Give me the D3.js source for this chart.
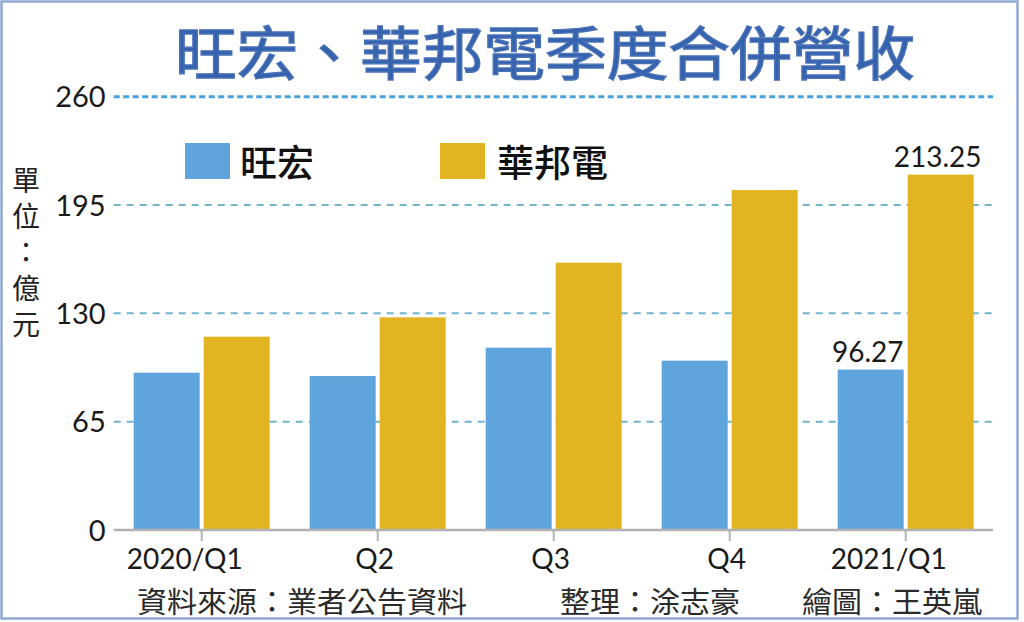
<!DOCTYPE html>
<html>
<head>
<meta charset="utf-8">
<script src="https://cdn.jsdelivr.net/npm/d3@7"></script>
<style>
  html, body { margin: 0; padding: 0; background: #fff; }
  svg { display: block; }
</style>
</head>
<body>
<svg id="chart" width="1024" height="622"></svg>
<script>
// ---- data ----
const categories = ["2020/Q1", "Q2", "Q3", "Q4", "2021/Q1"];
const seriesNames = ["旺宏", "華邦電"];
const macronix = [94.4, 92.4, 109.4, 101.6, 96.27];
const winbond = [116.0, 127.6, 160.4, 204.0, 213.25];
const yTicks = [0, 65, 130, 195, 260];
const valueLabels = [
  { cat: "2021/Q1", series: "旺宏", text: "96.27", value: 96.27 },
  { cat: "2021/Q1", series: "華邦電", text: "213.25", value: 213.25 }
];
const titleText = "旺宏、華邦電季度合併營收";
const unitText = "單位：億元";
const footerLeft = "資料來源：業者公告資料";
const footerMid = "整理：涂志豪";
const footerRight = "繪圖：王英嵐";

(function () {
// ---- setup ----
const svg = d3.select("#chart");
const colors = d3.scaleOrdinal().domain(seriesNames).range(["#5fa4dc", "#e2b422"]);
const cjk = "'Noto Sans CJK TC', 'Noto Sans CJK SC', sans-serif";
const num = "Lato, 'Open Sans', sans-serif";

const plotLeft = 113.7, plotRight = 993.7, baseline = 530, plotTop = 96.7;

const x0 = d3.scaleBand().domain(categories).range([plotLeft, plotRight])
  .paddingInner(40 / 176).paddingOuter(20 / 176);
const x1 = d3.scaleBand().domain(seriesNames).range([0, x0.bandwidth()])
  .paddingInner(4 / 70).paddingOuter(0);
const y = d3.scaleLinear().domain([0, 260]).range([baseline, plotTop]);

// frame border
svg.append("rect").attr("x", 1.5).attr("y", 1.5).attr("width", 1016).attr("height", 617)
  .attr("fill", "none").attr("stroke", "#8fa8d2").attr("stroke-width", 2.5);

// title
svg.append("text").attr("x", 175).attr("y", 50)
  .attr("dominant-baseline", "central")
  .attr("textLength", 740).attr("lengthAdjust", "spacingAndGlyphs")
  .attr("font-family", cjk).attr("font-weight", 400).attr("font-size", 58)
  .attr("fill", "#3562ad").attr("stroke", "#4a72b8").attr("stroke-width", 1.4)
  .text(titleText);

// gridlines
const grid = svg.append("g");
yTicks.filter(d => d > 0).forEach(t => {
  const isTop = t === 260;
  grid.append("line")
    .attr("x1", plotLeft).attr("x2", plotRight - 0.7)
    .attr("y1", y(t)).attr("y2", y(t))
    .attr("stroke", isTop ? "#4aa2db" : "#72b4cf")
    .attr("stroke-width", isTop ? 3 : 2)
    .attr("stroke-dasharray", isTop ? "6,3.5" : "7,6");
});

// y tick labels
const yAxis = d3.axisLeft(y).tickValues(yTicks).tickSize(0).tickPadding(8);
const gy = svg.append("g").attr("transform", `translate(${plotLeft},0)`).call(yAxis);
gy.select(".domain").remove();
gy.selectAll("text").attr("font-family", num).attr("font-size", 29)
  .attr("fill", "#1a1a1a").attr("dy", "0.35em");

// bars
const groups = svg.append("g").selectAll("g").data(categories).join("g")
  .attr("transform", d => `translate(${x0(d)},0)`);
groups.selectAll("rect")
  .data((d, i) => [
    { series: "旺宏", value: macronix[i] },
    { series: "華邦電", value: winbond[i] }
  ])
  .join("rect")
  .attr("x", d => x1(d.series))
  .attr("width", x1.bandwidth())
  .attr("y", d => y(d.value))
  .attr("height", d => baseline - y(d.value))
  .attr("fill", d => colors(d.series));

// x axis
const xAxis = d3.axisBottom(x0).tickSize(11).tickPadding(8);
const gx = svg.append("g").attr("transform", `translate(0,${baseline})`).call(xAxis);
gx.select(".domain").attr("d", `M${plotLeft},0H${plotRight - 0.7}`)
  .attr("stroke", "#b3b3b3").attr("stroke-width", 2.5);
gx.selectAll(".tick line").attr("stroke", "#b3b3b3").attr("stroke-width", 2);
gx.selectAll(".tick text").attr("font-family", num).attr("font-size", 28)
  .attr("fill", "#1a1a1a")
  .attr("dx", d => d.length > 3 ? -17 : -3);

// value labels
valueLabels.forEach(v => {
  svg.append("text")
    .attr("x", x0(v.cat) + x1(v.series) + x1.bandwidth() / 2 - 3)
    .attr("y", y(v.value) - 8)
    .attr("text-anchor", "middle")
    .attr("font-family", num).attr("font-size", 28).attr("fill", "#1a1a1a")
    .text(v.text);
});

// legend
const legend = svg.append("g");
const legendPos = [{ x: 185, tx: 240 }, { x: 440, tx: 497 }];
seriesNames.forEach((s, i) => {
  legend.append("rect").attr("x", legendPos[i].x).attr("y", 143)
    .attr("width", 45).attr("height", 36).attr("fill", colors(s));
  legend.append("text").attr("x", legendPos[i].tx).attr("y", 161)
    .attr("dominant-baseline", "central")
    .attr("font-family", cjk).attr("font-weight", 500).attr("font-size", 37)
    .attr("fill", "#111").text(s);
});

// unit label (vertical)
svg.append("text").attr("x", 26).attr("y", 166)
  .style("writing-mode", "vertical-rl")
  .attr("font-family", cjk).attr("font-size", 28).attr("fill", "#222")
  .attr("letter-spacing", 8)
  .text(unitText);

// footer
const footer = [
  { t: footerLeft, x: 137, w: 330 },
  { t: footerMid, x: 560, w: 180 },
  { t: footerRight, x: 802, w: 180 }
];
footer.forEach(f => {
  svg.append("text").attr("x", f.x).attr("y", 600)
    .attr("dominant-baseline", "central")
    .attr("textLength", f.w).attr("lengthAdjust", "spacingAndGlyphs")
    .attr("font-family", cjk).attr("font-size", 29).attr("fill", "#2a2a2a")
    .text(f.t);
});
})();
</script>
</body>
</html>
